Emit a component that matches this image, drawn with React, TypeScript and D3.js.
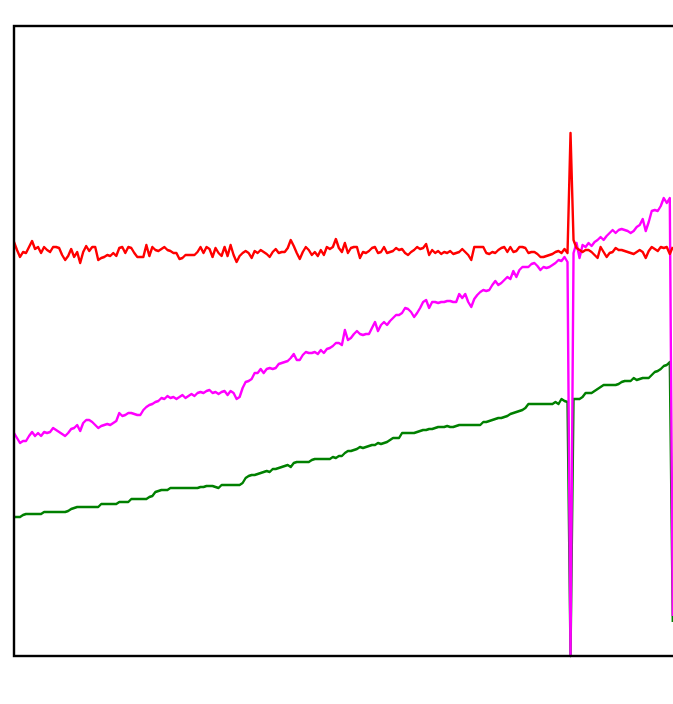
import React from 'react';
import * as d3 from 'd3';

// Heights of each series above the bottom of the frame (arbitrary units), one value per sample
const RED: number[] = [
  414, 406, 399, 404, 403, 409, 415, 407, 409, 403,
  409, 406, 404, 409, 409, 408, 401, 396, 400, 407,
  399, 404, 393, 404, 410, 405, 409, 409, 396, 398,
  399, 401, 400, 403, 400, 408, 409, 403, 409, 408,
  403, 399, 399, 399, 411, 400, 409, 406, 405, 407,
  409, 406, 405, 403, 403, 397, 398, 401, 401, 401,
  401, 404, 409, 403, 409, 407, 399, 408, 403, 400,
  409, 400, 411, 401, 394, 400, 403, 405, 403, 398,
  405, 403, 406, 404, 402, 399, 404, 407, 403, 404,
  404, 408, 416, 410, 403, 397, 404, 409, 406, 401,
  404, 400, 406, 401, 409, 407, 409, 417, 408, 404,
  413, 403, 408, 409, 409, 398, 404, 403, 405, 408,
  409, 403, 404, 409, 403, 404, 405, 408, 406, 407,
  403, 401, 404, 406, 409, 407, 408, 412, 401, 406,
  403, 405, 402, 404, 403, 405, 402, 403, 404, 407,
  404, 401, 396, 409, 409, 409, 409, 403, 402, 404,
  403, 406, 408, 409, 404, 409, 404, 405, 409, 409,
  408, 403, 404, 404, 402, 399, 399, 400, 401, 402,
  404, 405, 403, 407, 403, 523, 416, 408, 406, 404,
  406, 406, 404, 401, 398, 409, 404, 399, 403, 404,
  408, 406, 406, 405, 404, 403, 402, 404, 406, 404,
  398, 405, 409, 407, 405, 409, 408, 409, 402, 409,
];

const MAGENTA: number[] = [
  223, 218, 213, 215, 215, 220, 224, 220, 223, 220,
  224, 223, 224, 228, 226, 224, 222, 220, 223, 227,
  228, 231, 225, 233, 236, 236, 234, 231, 228, 230,
  231, 232, 231, 233, 235, 243, 240, 241, 243, 243,
  242, 241, 241, 246, 249, 251, 252, 254, 255, 258,
  257, 260, 258, 259, 257, 259, 261, 258, 260, 262,
  260, 263, 264, 263, 265, 266, 263, 264, 262, 264,
  265, 261, 265, 263, 257, 259, 268, 274, 275, 277,
  283, 283, 287, 283, 287, 288, 287, 288, 292, 293,
  294, 295, 298, 302, 296, 296, 301, 304, 303, 303,
  304, 302, 306, 303, 307, 308, 310, 313, 313, 311,
  326, 316, 318, 322, 325, 322, 321, 322, 322, 328,
  334, 325, 331, 334, 331, 335, 338, 341, 341, 343,
  348, 347, 344, 339, 343, 348, 354, 356, 348, 354,
  354, 353, 354, 354, 355, 355, 354, 354, 362, 358,
  362, 354, 349, 357, 361, 364, 366, 365, 366, 371,
  375, 371, 373, 376, 379, 377, 385, 379, 386, 389,
  389, 389, 392, 393, 390, 386, 389, 388, 389, 391,
  393, 396, 395, 399, 394, 0, 403, 413, 398, 411,
  409, 413, 410, 414, 416, 419, 416, 420, 423, 426,
  423, 426, 427, 426, 425, 423, 425, 429, 431, 437,
  425, 434, 445, 446, 445, 450, 458, 453, 458, 40,
];

const GREEN: number[] = [
  139, 139, 139, 141, 142, 142, 142, 142, 142, 142,
  144, 144, 144, 144, 144, 144, 144, 144, 145, 147,
  148, 149, 149, 149, 149, 149, 149, 149, 149, 152,
  152, 152, 152, 152, 152, 154, 154, 154, 154, 157,
  157, 157, 157, 157, 157, 159, 160, 164, 165, 166,
  166, 166, 168, 168, 168, 168, 168, 168, 168, 168,
  168, 168, 169, 169, 170, 170, 170, 169, 168, 171,
  171, 171, 171, 171, 171, 171, 173, 178, 180, 181,
  181, 182, 183, 184, 185, 184, 187, 187, 188, 189,
  190, 191, 189, 193, 194, 194, 194, 194, 194, 196,
  197, 197, 197, 197, 197, 197, 199, 198, 200, 200,
  203, 205, 205, 206, 207, 209, 208, 209, 210, 211,
  211, 213, 212, 213, 214, 216, 218, 218, 218, 223,
  223, 223, 223, 223, 224, 225, 226, 226, 227, 227,
  228, 229, 229, 229, 230, 229, 229, 230, 231, 231,
  231, 231, 231, 231, 231, 231, 234, 234, 235, 236,
  237, 238, 238, 239, 240, 242, 243, 244, 245, 246,
  248, 252, 252, 252, 252, 252, 252, 252, 252, 252,
  254, 252, 257, 255, 254, 0, 257, 257, 257, 259,
  263, 263, 263, 265, 267, 269, 271, 271, 271, 271,
  271, 272, 274, 275, 275, 275, 278, 276, 277, 278,
  278, 278, 281, 284, 285, 287, 290, 291, 294, 34,
];

const SERIES_COLORS = ['#008000', '#ff00ff', '#ff0000'];

export default function App() {
  const W = 673;
  const H = 704;
  const left = 14;
  const top = 26;
  const bottom = 656;
  const n = 220;

  const x = d3.scaleLinear().domain([0, n - 1]).range([left, 672.8]);
  const y = d3.scaleLinear().domain([0, 630]).range([bottom, top]);
  const line = d3
    .line<number>()
    .x((_, i) => x(i))
    .y((d) => y(d));

  const series = [GREEN, MAGENTA, RED];

  return (
    <svg
      width={W}
      height={H}
      style={{ position: 'absolute', left: 0, top: 0, display: 'block', background: '#fff' }}
    >
      {series.map((s, k) => (
        <path
          key={k}
          d={line(s) || ''}
          fill="none"
          stroke={SERIES_COLORS[k]}
          strokeWidth={2.4}
          strokeLinejoin="round"
          strokeLinecap="butt"
        />
      ))}
      <rect
        x={left}
        y={top}
        width={720}
        height={bottom - top}
        fill="none"
        stroke="#000"
        strokeWidth={2.4}
      />
    </svg>
  );
}
